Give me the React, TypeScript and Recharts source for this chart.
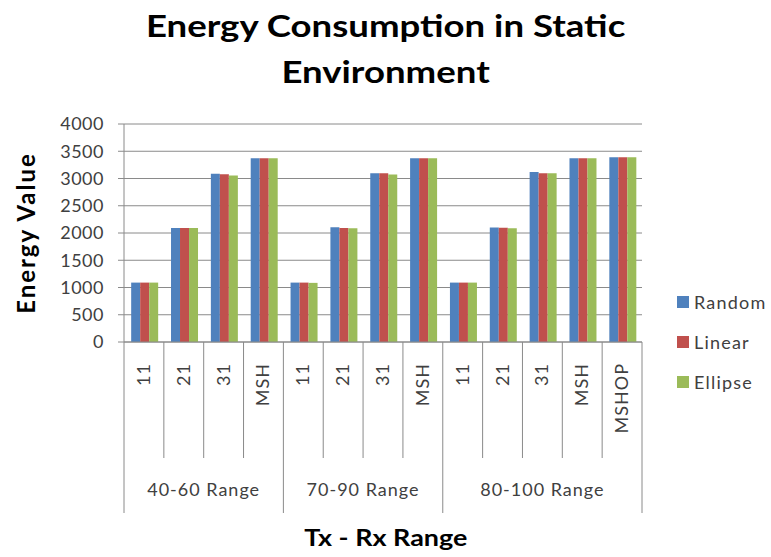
import { Bar, BarChart, CartesianGrid, XAxis, YAxis } from 'recharts'

const categories = ['11', '21', '31', 'MSH', '11', '21', '31', 'MSH', '11', '21', '31', 'MSH', 'MSHOP']
const categoryGroup = [0, 0, 0, 0, 1, 1, 1, 1, 2, 2, 2, 2, 2]
const groups = ['40-60 Range', '70-90 Range', '80-100 Range']

const random = [1090, 2090, 3085, 3370, 1090, 2105, 3095, 3370, 1090, 2100, 3120, 3370, 3390]
const linear = [1090, 2090, 3080, 3370, 1090, 2090, 3095, 3370, 1090, 2095, 3095, 3370, 3390]
const ellipse = [1090, 2090, 3055, 3370, 1085, 2085, 3075, 3370, 1090, 2085, 3095, 3370, 3390]

const yTicks = [0, 500, 1000, 1500, 2000, 2500, 3000, 3500, 4000]

const SERIES = [
  { key: 'random', name: 'Random', color: '#4F81BD' },
  { key: 'linear', name: 'Linear', color: '#C0504D' },
  { key: 'ellipse', name: 'Ellipse', color: '#9BBB59' },
]

const FONT = 'Lato, "Open Sans", sans-serif'
const TEXT = '#404040'
const LINE = '#8a8a8a'

const data = categories.map((label, i) => ({
  key: `c${i}`,
  label,
  group: categoryGroup[i],
  random: random[i],
  linear: linear[i],
  ellipse: ellipse[i],
}))

// two-level category axis: rotated labels, divider lines, group names underneath
const CategoryTick = (props: any) => {
  const { x, y, payload } = props
  const i = props.index ?? payload.index
  const half = payload.offset ?? 19.9
  const g = categoryGroup[i]
  const firstInGroup = i === 0 || categoryGroup[i - 1] !== g
  const groupSize = categoryGroup.filter((v) => v === g).length
  const isLast = i === categories.length - 1

  return (
    <g>
      <line x1={x - half} x2={x - half} y1={y} y2={y + (firstInGroup ? 171 : 116)} stroke={LINE} />
      {isLast && <line x1={x + half} x2={x + half} y1={y} y2={y + 171} stroke={LINE} />}
      <text
        x={x + 6}
        y={y + 21}
        transform={`rotate(-90, ${x + 6}, ${y + 21})`}
        textAnchor="end"
        fill={TEXT}
        fontSize={18}
        letterSpacing={1}
        fontFamily={FONT}
      >
        {categories[i]}
      </text>
      {firstInGroup && (
        <text
          x={x - half + groupSize * half}
          y={y + 154}
          textAnchor="middle"
          fill={TEXT}
          fontSize={18}
          letterSpacing={1}
          fontFamily={FONT}
        >
          {groups[g]}
        </text>
      )}
    </g>
  )
}

export default function App() {
  return (
    <div style={{ position: 'absolute', left: 0, top: 0, width: 771, height: 557, background: '#fff', fontFamily: FONT }}>
      <div
        style={{
          position: 'absolute',
          left: 0,
          top: 2,
          width: 771,
          textAlign: 'center',
          fontSize: 31,
          fontWeight: 700,
          lineHeight: '46px',
          color: '#000',
          transform: 'scaleX(1.18)',
          transformOrigin: '385px 0',
        }}
      >
        Energy Consumption in Static
        <br />
        Environment
      </div>

      <BarChart
        width={771}
        height={557}
        data={data}
        margin={{ top: 124, right: 129, bottom: 0, left: 0 }}
        barGap={0}
        barCategoryGap="18%"
      >
        <CartesianGrid vertical={false} stroke={LINE} />
        <XAxis
          dataKey="key"
          interval={0}
          height={215}
          tickLine={false}
          tickSize={0}
          tickMargin={0}
          axisLine={{ stroke: LINE }}
          tick={<CategoryTick />}
        />
        <YAxis
          width={124}
          domain={[0, 4000]}
          ticks={yTicks}
          tickSize={6}
          tickMargin={14}
          axisLine={{ stroke: LINE }}
          tickLine={{ stroke: LINE }}
          tick={{ fill: TEXT, fontSize: 18, fontFamily: FONT, letterSpacing: 0.5 }}
        />
        {SERIES.map((s) => (
          <Bar key={s.key} dataKey={s.key} name={s.name} fill={s.color} isAnimationActive={false} />
        ))}
      </BarChart>

      <div
        style={{
          position: 'absolute',
          left: 25,
          top: 233,
          transform: 'translate(-50%, -50%) rotate(-90deg)',
          whiteSpace: 'nowrap',
          fontSize: 24,
          fontWeight: 700,
          letterSpacing: 2,
          color: '#000',
        }}
      >
        Energy Value
      </div>

      <div
        style={{
          position: 'absolute',
          left: 0,
          top: 523,
          width: 771,
          textAlign: 'center',
          fontSize: 23,
          fontWeight: 700,
          lineHeight: '28px',
          color: '#000',
          transform: 'scaleX(1.17)',
          transformOrigin: '384px 0',
        }}
      >
        Tx - Rx Range
      </div>

      <div style={{ position: 'absolute', left: 677, top: 289 }}>
        {SERIES.map((s) => (
          <div
            key={s.key}
            style={{
              display: 'flex',
              alignItems: 'center',
              height: 26,
              marginBottom: 14,
              fontSize: 18,
              letterSpacing: 1.2,
              color: TEXT,
            }}
          >
            <span style={{ width: 12, height: 12, background: s.color, marginRight: 5, display: 'inline-block' }} />
            {s.name}
          </div>
        ))}
      </div>
    </div>
  )
}
